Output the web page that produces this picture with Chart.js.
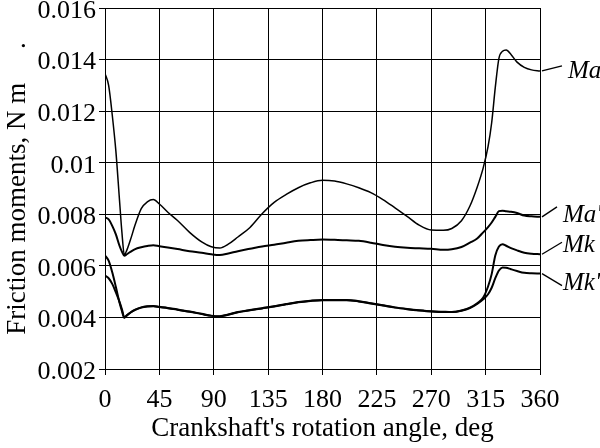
<!DOCTYPE html>
<html>
<head>
<meta charset="utf-8">
<script src="https://cdn.jsdelivr.net/npm/chart.js"></script>
<style>
  html, body { margin: 0; padding: 0; background: #fff; }
  #wrap { width: 600px; height: 448px; }
</style>
</head>
<body>
<div id="wrap"><canvas id="frictionChart" width="600" height="448"></canvas></div>
<script>
// ======= DATA =======
const angles = [0, 3, 6, 9, 12, 14, 16, 18, 21, 25, 30, 35, 40, 45, 52, 60, 70, 80, 88, 95,
  102, 110, 120, 130, 140, 150, 160, 170, 180, 190, 200, 210, 220, 230, 240, 250, 260, 270,
  280, 287, 295, 302, 308, 313, 317, 320, 323, 326, 329, 332, 336, 341, 347, 353, 360];

const maValues = [0.01346, 0.01300, 0.01185, 0.01045, 0.00855, 0.00730, 0.00643, 0.00660, 0.00700, 0.00760,
  0.00822, 0.00848, 0.00857, 0.00840, 0.00808, 0.00776, 0.00730, 0.00693, 0.00674, 0.00669,
  0.00684, 0.00712, 0.00749, 0.00802, 0.00846, 0.00877, 0.00903, 0.00922, 0.00932, 0.00929,
  0.00918, 0.00903, 0.00884, 0.00857, 0.00825, 0.00792, 0.00758, 0.00739, 0.00738, 0.00745,
  0.00775, 0.00832, 0.00905, 0.00980, 0.01062, 0.01155, 0.01292, 0.01405, 0.01432, 0.01437,
  0.01420, 0.01390, 0.01370, 0.01360, 0.01356];

const maPrimeValues = [0.00788, 0.00780, 0.00755, 0.00722, 0.00678, 0.00655, 0.00639, 0.00645, 0.00654, 0.00665,
  0.00672, 0.00677, 0.00680, 0.00676, 0.00671, 0.00665, 0.00657, 0.00651, 0.00645, 0.00642,
  0.00648, 0.00657, 0.00666, 0.00675, 0.00682, 0.00690, 0.00697, 0.00700, 0.00702, 0.00701,
  0.00699, 0.00697, 0.00690, 0.00681, 0.00674, 0.00670, 0.00668, 0.00666, 0.00662, 0.00664,
  0.00673, 0.00690, 0.00706, 0.00730, 0.00750, 0.00768, 0.00790, 0.00812, 0.00814, 0.00812,
  0.00810, 0.00805, 0.00795, 0.00792, 0.00790];

const mkValues = [0.00640, 0.00620, 0.00575, 0.00518, 0.00458, 0.00425, 0.00399, 0.00408, 0.00419, 0.00430,
  0.00439, 0.00443, 0.00444, 0.00441, 0.00437, 0.00431, 0.00423, 0.00414, 0.00407, 0.00405,
  0.00411, 0.00421, 0.00429, 0.00436, 0.00443, 0.00452, 0.00460, 0.00465, 0.00468, 0.00468,
  0.00468, 0.00463, 0.00455, 0.00447, 0.00439, 0.00433, 0.00428, 0.00424, 0.00422, 0.00421,
  0.00427, 0.00438, 0.00455, 0.00477, 0.00520, 0.00568, 0.00640, 0.00675, 0.00684, 0.00678,
  0.00669, 0.00660, 0.00651, 0.00647, 0.00645];

const mkPrimeValues = [0.00562, 0.00552, 0.00530, 0.00497, 0.00460, 0.00432, 0.00400, 0.00407, 0.00418, 0.00429,
  0.00438, 0.00442, 0.00443, 0.00440, 0.00436, 0.00430, 0.00422, 0.00413, 0.00406, 0.00404,
  0.00410, 0.00420, 0.00428, 0.00435, 0.00442, 0.00451, 0.00459, 0.00464, 0.00467, 0.00467,
  0.00467, 0.00462, 0.00454, 0.00446, 0.00438, 0.00432, 0.00427, 0.00423, 0.00421, 0.00421,
  0.00426, 0.00436, 0.00452, 0.00470, 0.00490, 0.00515, 0.00552, 0.00582, 0.00594, 0.00593,
  0.00587, 0.00580, 0.00573, 0.00571, 0.00570];

const seriesNames = ["Ma", "Ma'", "Mk", "Mk'"];
const xTickLabels = ["0", "45", "90", "135", "180", "225", "270", "315", "360"];
const yTickLabels = ["0.002", "0.004", "0.006", "0.008", "0.01", "0.012", "0.014", "0.016"];

const serif = '"Liberation Serif", "Times New Roman", serif';

function points(values) {
  return angles.map((a, i) => ({ x: a, y: values[i] }));
}

// ======= LABELS AT THE RIGHT END OF EACH CURVE =======
// leader line offsets (dx, dy) and text start
const labelStyle = [
  { dx: 20, dy: -5, tx: 568, ty: 71 },
  { dx: 15, dy: -10, tx: 563, ty: 215 },
  { dx: 20, dy: -12, tx: 563, ty: 245 },
  { dx: 20, dy: 12, tx: 563, ty: 283 }
];

const endLabels = {
  id: "endLabels",
  afterDatasetsDraw(chart) {
    const ctx = chart.ctx;
    ctx.save();
    ctx.strokeStyle = "#000";
    ctx.fillStyle = "#000";
    ctx.lineWidth = 1.3;
    ctx.font = "italic 25px " + serif;
    ctx.textBaseline = "middle";
    ctx.textAlign = "left";
    chart.data.datasets.forEach((ds, i) => {
      const meta = chart.getDatasetMeta(i);
      const last = meta.data[meta.data.length - 1];
      const s = labelStyle[i];
      const x0 = last.x + 2;
      ctx.beginPath();
      ctx.moveTo(x0, last.y);
      ctx.lineTo(x0 + s.dx, last.y + s.dy);
      ctx.stroke();
      ctx.fillText(seriesNames[i], s.tx, s.ty);
    });
    ctx.restore();
  }
};

const lineWidths = [1.5, 2, 2, 2];

new Chart(document.getElementById("frictionChart"), {
  type: "line",
  data: {
    datasets: [maValues, maPrimeValues, mkValues, mkPrimeValues].map((vals, i) => ({
      label: seriesNames[i],
      data: points(vals),
      borderColor: "#000",
      borderWidth: lineWidths[i],
      pointRadius: 0,
      fill: false,
      cubicInterpolationMode: "monotone"
    }))
  },
  options: {
    responsive: false,
    maintainAspectRatio: false,
    animation: false,
    layout: { padding: { top: 8, right: 60, left: 0, bottom: 0 } },
    plugins: {
      legend: { display: false },
      tooltip: { enabled: false }
    },
    scales: {
      x: {
        type: "linear",
        min: 0,
        max: 360,
        border: { color: "#000", width: 1 },
        grid: { color: "#000", lineWidth: 1, tickLength: 6, tickColor: "#000" },
        ticks: {
          stepSize: 45,
          color: "#000",
          padding: 10,
          maxRotation: 0,
          font: { family: serif, size: 26 },
          callback: (v, i) => xTickLabels[i]
        },
        title: {
          display: true,
          text: "Crankshaft's rotation angle, deg",
          color: "#000",
          font: { family: serif, size: 27 },
          padding: { top: 0, bottom: 3 }
        },
        afterFit: s => {
          s.height = 79;
          s.paddingLeft = 0; s.paddingRight = 0;
        }
      },
      y: {
        min: 0.002,
        max: 0.016,
        border: { color: "#000", width: 1 },
        grid: { color: "#000", lineWidth: 1, tickLength: 6, tickColor: "#000" },
        ticks: {
          stepSize: 0.002,
          color: "#000",
          padding: 3,
          labelOffset: 3,
          font: { family: serif, size: 26 },
          callback: (v, i) => yTickLabels[i]
        },
        title: {
          display: true,
          text: "Friction moments, N m\u00a0\u00a0\u00a0\u00a0\u00a0.",
          color: "#000",
          font: { family: serif, size: 27 },
          padding: { top: 2, bottom: 0 }
        },
        afterFit: s => {
          s.width = 105;
          s.paddingTop = 0; s.paddingBottom = 0;
        }
      }
    }
  },
  plugins: [endLabels]
});
</script>
</body>
</html>
